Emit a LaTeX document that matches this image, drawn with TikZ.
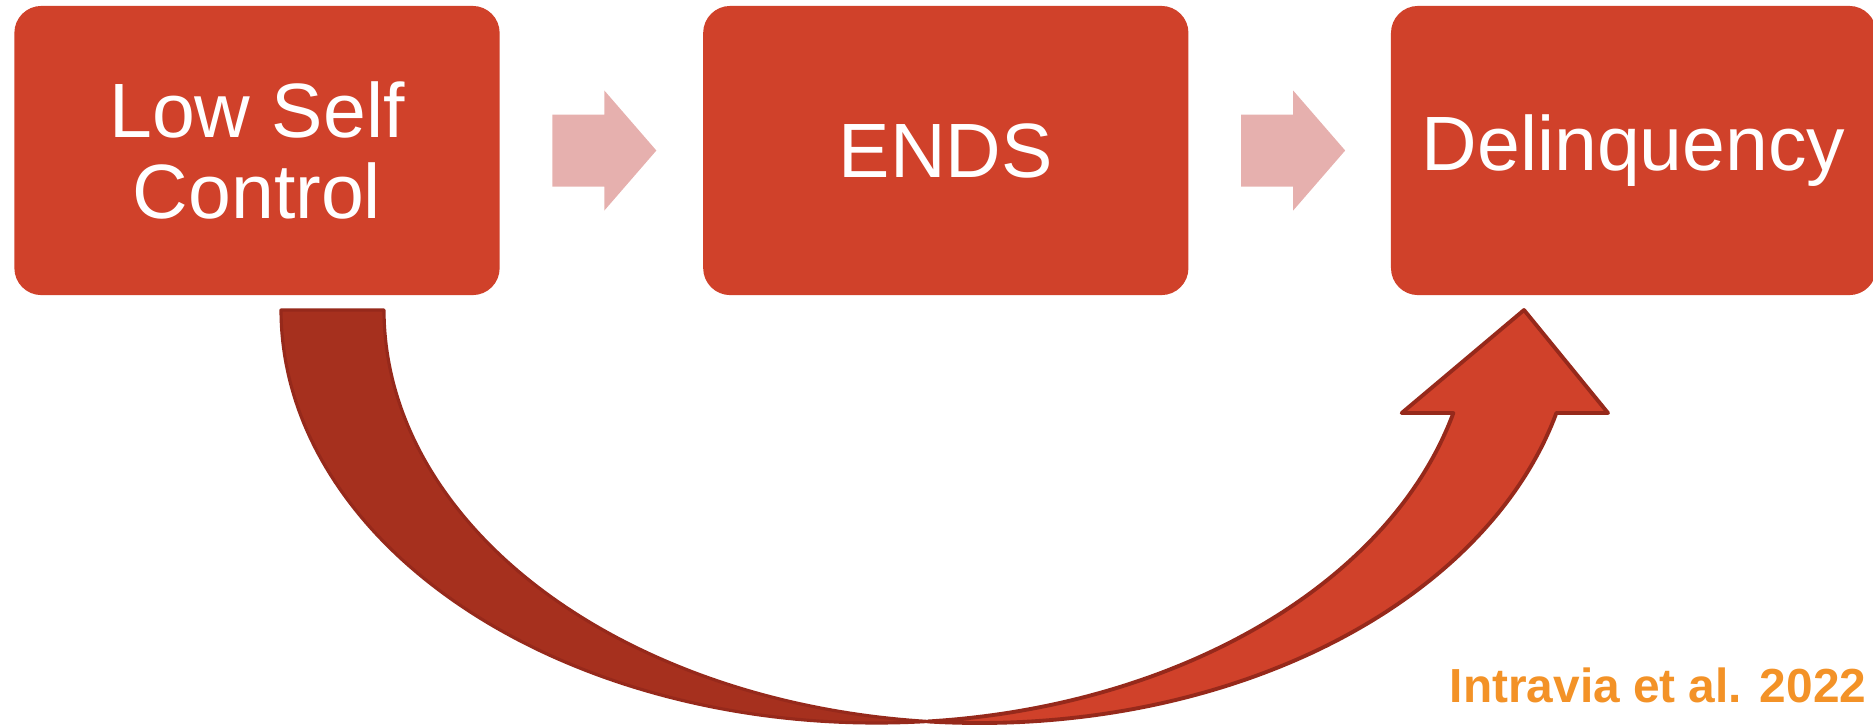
\documentclass[tikz,border=0pt]{standalone}
\usepackage{fontspec}
\setmainfont{Liberation Sans}
\usetikzlibrary{positioning,calc}

\definecolor{boxred}{RGB}{208,65,42}
\definecolor{darkband}{RGB}{166,48,30}
\definecolor{bandline}{RGB}{150,41,27}
\definecolor{pinkarrow}{RGB}{230,176,174}
\definecolor{citeorange}{RGB}{243,146,39}

\tikzset{
  stage/.style={rectangle, rounded corners=0.27cm, fill=boxred, text=white,
    minimum width=4.85cm, minimum height=2.89cm, align=center,
    font=\fontsize{21.9pt}{22.8pt}\selectfont},
  flow/.style={fill=pinkarrow},
  ribbon/.style={draw=bandline, line width=1.1pt, line join=round},
}

\begin{document}
\begin{tikzpicture}[x=0.01cm, y=-0.01cm]
  \useasboundingbox (0,0) rectangle (1873,726);

  % the three stages
  \node[stage] (lsc) at (257,150.5) {Low Self\\Control};
  \node[stage, right=2.02cm of lsc] (ends) {ENDS};
  \node[stage, right=2.01cm of ends] (delq) {Delinquency};

  % block arrows between the stages
  \foreach \a in {lsc, ends}
    \fill[flow, shift={(\a.east)}]
      (52,-36) -- (104,-36) -- (104,-60) -- (156,0) -- (104,60) -- (104,36) -- (52,36) -- cycle;

  % curved arrow: back of the ribbon
  \filldraw[ribbon, fill=darkband, line width=0.9pt]
    plot[domain=180:85.04, samples=90, variable=\t] ({876.6+595.6*cos(\t)}, {310+413*sin(\t)})
    -- plot[domain=94.96:180, samples=90, variable=\t] ({979.6+595.6*cos(\t)}, {310+413*sin(\t)})
    -- cycle;
  % curved arrow: front with head
  \filldraw[ribbon, fill=boxred]
    (1524,310) -- (1608,413) -- (1556,413)
    -- plot[domain=14.44:94.96, samples=90, variable=\t] ({979.6+595.6*cos(\t)}, {310+413*sin(\t)})
    -- plot[domain=85.04:14.44, samples=90, variable=\t] ({876.6+595.6*cos(\t)}, {310+413*sin(\t)})
    -- (1401.7,413) -- cycle;

  \node[anchor=base east, inner sep=0pt, text=citeorange,
    font=\bfseries\fontsize{13.6pt}{16pt}\selectfont] (cite) at (1867,702) {Intravia et al. 2022};
\end{tikzpicture}
\end{document}
